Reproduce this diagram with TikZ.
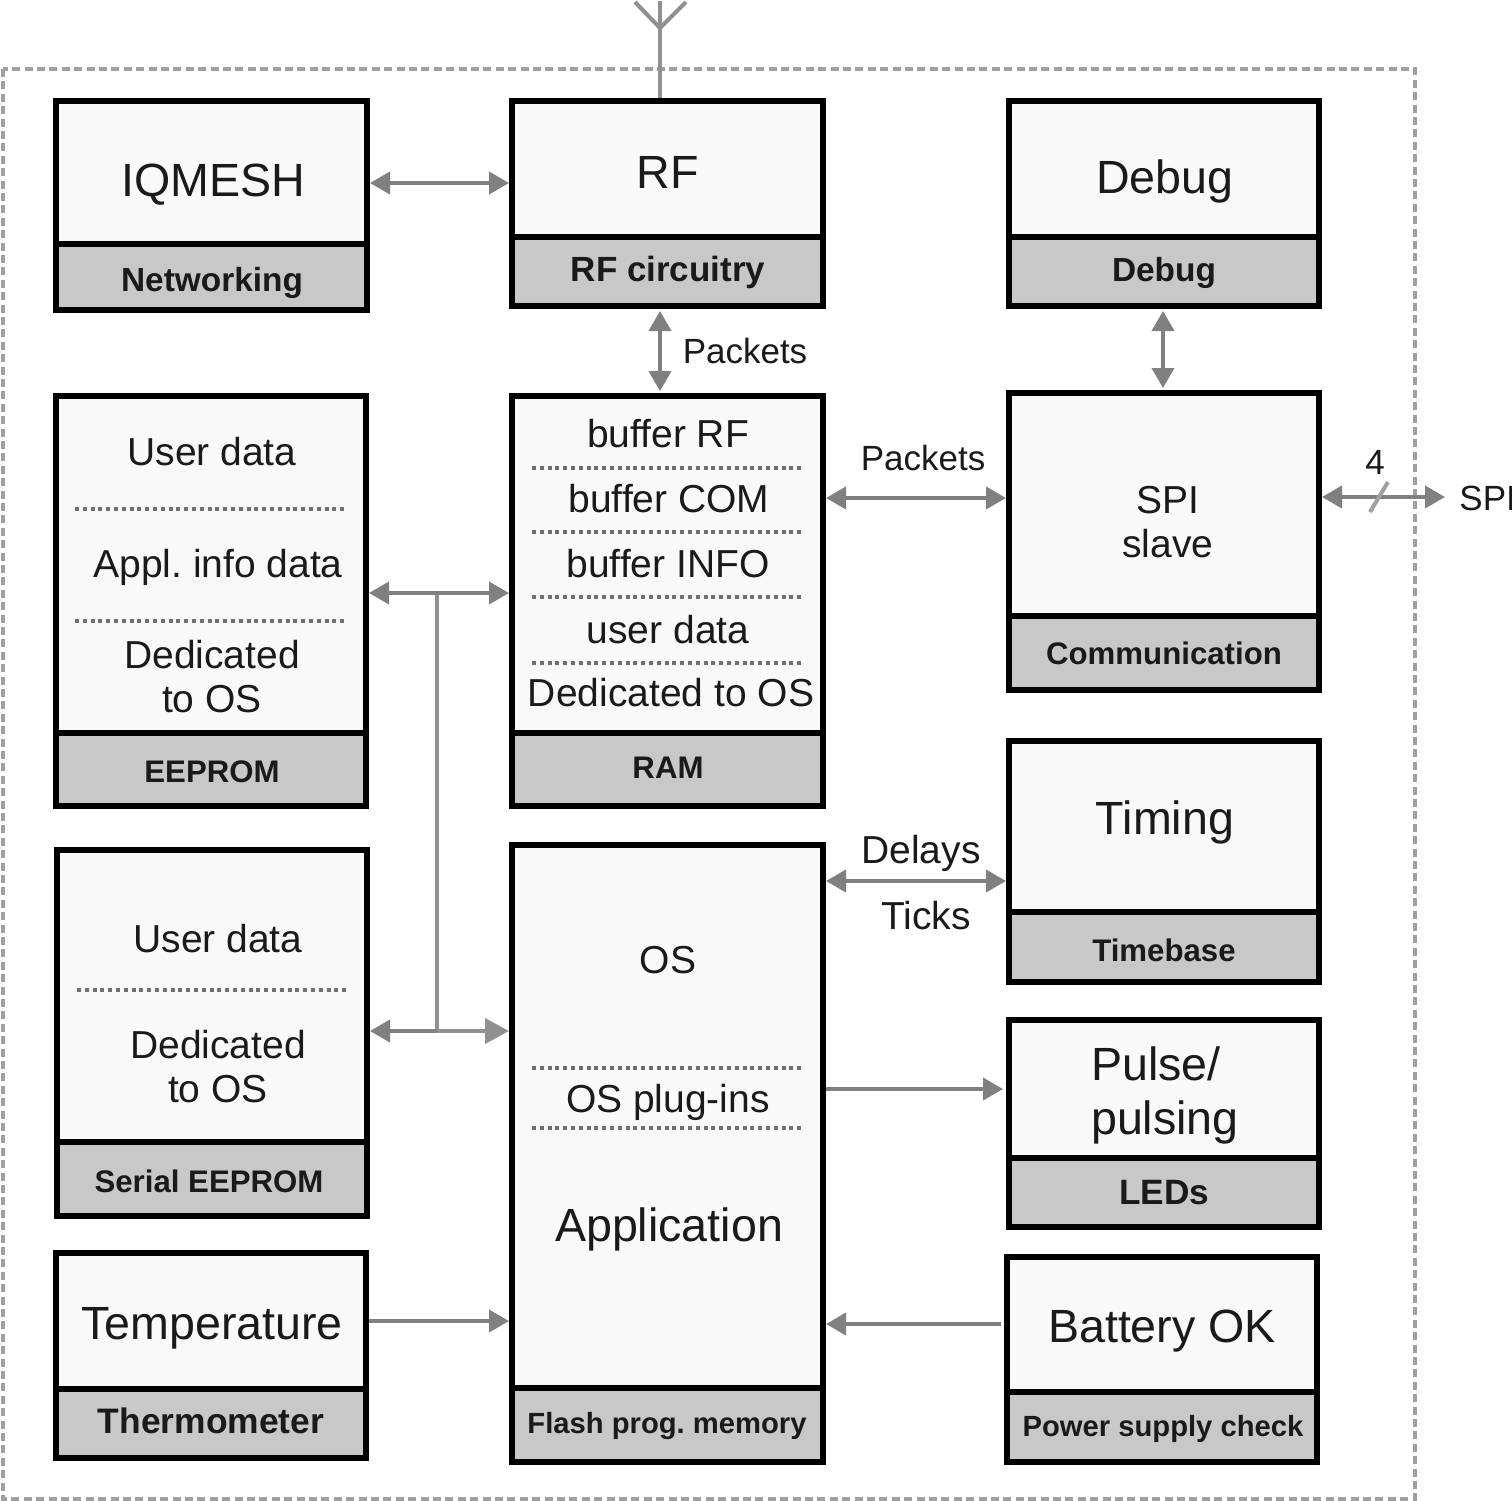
\documentclass[tikz,border=0pt]{standalone}
\usepackage{fontspec}
\setmainfont{Liberation Sans}
\usetikzlibrary{arrows.meta}
\definecolor{ink}{HTML}{1A1A1A}
\definecolor{body gray}{HTML}{F9F9F9}
\definecolor{tag gray}{HTML}{C8C8C8}
\definecolor{arrow gray}{HTML}{808080}
\definecolor{frame gray}{HTML}{A0A0A0}
\definecolor{bus gray}{HTML}{909090}
\definecolor{dot gray}{HTML}{707070}
\begin{document}
\frenchspacing
\begin{tikzpicture}[x=0.5pt, y=-0.5pt,
	>={Triangle[length=10pt,width=11pt]},
	block/.style={draw=black, line width=3pt, inner sep=0pt},
	text big/.style={text=ink, inner sep=0pt, anchor=base, font=\fontsize{23.3}{27}\selectfont},
	text mid/.style={text=ink, inner sep=0pt, anchor=base, font=\fontsize{19.5}{22}\selectfont},
	text small/.style={text=ink, inner sep=0pt, anchor=base, font=\fontsize{17.5}{20}\selectfont},
	link/.style={draw=arrow gray, line width=2pt},
	bus/.style={draw=bus gray, line width=2pt},
	separator/.style={draw=dot gray, line width=2pt, dash pattern=on 2pt off 1.9pt}]
		\useasboundingbox (0,0) rectangle (1512,1501);
		\draw[frame gray, line width=2pt, dash pattern=on 4pt off 2.2pt] (3,69) rectangle (1415,1499);
		% boxes: name / left / right / top / split / bottom
		\foreach \name/\xa/\xb/\ya/\ys/\yb in {iqmesh/56/367/101/244/310, rf/512/823/101/237/306,
			debug/1009/1319/101/237/306, spi/1009/1319/393/616/690, eeprom/56/366/396/733/806,
			ram/512/823/396/733/806, timing/1009/1319/741/912/982, serial/57/367/850/1142/1216,
			flash/512/823/845/1388/1462, pulse/1009/1319/1020/1158/1227,
			battery/1007/1317/1257/1392/1462, thermo/56/366/1253/1389/1458}{
		  \pgfmathsetmacro{\bw}{(\xb-\xa)/2}
		  \pgfmathsetmacro{\bha}{(\ys-\ya)/2}
		  \pgfmathsetmacro{\bhb}{(\yb-\ys)/2}
		  \node[block, fill=body gray, minimum width=\bw pt, minimum height=\bha pt] (\name) at ({(\xa+\xb)/2},{(\ya+\ys)/2}) {};
		  \node[block, fill=tag gray, minimum width=\bw pt, minimum height=\bhb pt] (tag \name) at ({(\xa+\xb)/2},{(\ys+\yb)/2}) {};
		}
		% grey bar captions
		\foreach \name/\px/\py/\fs/\txt in {iqmesh/212/291/16.7/Networking, rf/668/281/17.5/RF circuitry,
			debug/1164/281/16.7/Debug, spi/1164/664/15.6/Communication, eeprom/212/782/15.6/EEPROM,
			ram/668/778/15.6/RAM, timing/1164/961/15.6/Timebase, serial/209/1192/15.6/Serial EEPROM,
			flash/667/1433/14.6/Flash prog. memory, pulse/1164/1204/17.6/LEDs,
			thermo/211/1433/17.7/Thermometer, battery/1163/1436/14.6/Power supply check}{
		  \node[text=ink, inner sep=0pt, anchor=base, font=\fontsize{\fs}{\fs}\selectfont\bfseries] (caption \name) at (\px,\py) {\txt};
		}
		% dotted separators
		\foreach \name/\xa/\xb/\y in {ee1/75/347.5/508.5, ee2/75/347.5/620.5, ser1/77/349.5/989.5, ram1/532/804.5/467.5,
			ram2/532/804.5/531.5, ram3/532/804.5/596.5, ram4/532/804.5/662.5, fl1/532/804.5/1067.5, fl2/532/804.5/1127.5}{
		  \coordinate (left \name) at (\xa,\y);
		  \coordinate (right \name) at (\xb,\y);
		  \draw[separator] (left \name) -- (right \name);
		}
		\node[text big] (iqmesh text) at (213,196) {IQMESH};
		\node[text big] (rf text) at (668,188) {RF};
		\node[text big] (debug text) at (1165,193) {Debug};
		\node[text big] (timing text) at (1165,834) {Timing};
		\node[text big, anchor=center, align=left] (pulse text) at (1165,1095) {Pulse/\\pulsing};
		\node[text big] (appl text) at (669,1241) {Application};
		\node[text big] (thermo text) at (212,1339) {Temperature};
		\node[text big] (battery text) at (1162,1342) {Battery OK};
		\node[text mid] (ee user) at (212,465) {User data};
		\node[text mid] (ee info) at (218,577) {Appl. info data};
		\node[text mid, anchor=center, align=center] (ee os) at (212,677) {Dedicated\\to OS};
		\node[text mid] (ram rf) at (668,447) {buffer RF};
		\node[text mid] (ram com) at (669,512) {buffer COM};
		\node[text mid] (ram info) at (668,577) {buffer INFO};
		\node[text mid] (ram user) at (668,643) {user data};
		\node[text mid] (ram os) at (671,706) {Dedicated to OS};
		\node[text mid, anchor=center, align=center] (spi text) at (1168,522) {SPI\\slave};
		\node[text mid] (flash os) at (668,973) {OS};
		\node[text mid] (flash plug) at (668,1112) {OS plug-ins};
		\node[text mid] (ser user) at (218,952) {User data};
		\node[text mid, anchor=center, align=center] (ser os) at (218,1067) {Dedicated\\to OS};
		\node[text small] (packets rf) at (745,363) {Packets};
		\node[text small] (packets spi) at (923,470) {Packets};
		\node[text small] (spi width) at (1375,474) {4};
		\node[text small, anchor=base west] (spi out) at (1459,510) {SPI};
		\node[text mid] (delays) at (921,863) {Delays};
		\node[text mid] (ticks) at (926,929) {Ticks};
		% antenna
		\coordinate (ant top) at (660,1);
		\coordinate (ant fork) at (660,28);
		\coordinate (ant left) at (635,2);
		\coordinate (ant right) at (686,2);
		\draw[bus] (ant top |- rf.north) -- (ant top);
		\draw[bus] (ant left) -- (ant fork) -- (ant right);
		% links
		\draw[link, <->] (iqmesh.east |- 0,183) -- (rf.west |- 0,183);
		\draw[link, <->, shorten <=1pt, shorten >=1pt] (660,0 |- tag rf.south) -- (660,0 |- ram.north);
		\draw[link, <->, shorten <=1pt, shorten >=1pt] (1163,0 |- tag debug.south) -- (1163,0 |- spi.north);
		\draw[link, <->] (ram.east |- 0,498) -- (spi.west |- 0,498);
		\coordinate (spi end) at (1445,497);
		\draw[link, <->] (spi.east |- spi end) -- (spi end);
		\coordinate (slash a) at (1370,512);
		\coordinate (slash b) at (1388,482);
		\draw[frame gray, line width=2pt] (slash a) -- (slash b);
		\coordinate (bus top) at (437,593);
		\coordinate (bus bottom) at (437,1031);
		\draw[bus] (bus top) -- (bus bottom);
		\draw[link, <->] (eeprom.east |- bus top) -- (ram.west |- bus top);
		\draw[link, <-] (serial.east |- bus bottom) -- (bus bottom);
		\draw[bus, ->, >={Triangle[length=12pt,width=12.5pt]}] (bus bottom) -- (flash.west |- bus bottom);
		\draw[link, <->] (flash.east |- 0,881) -- (timing.west |- 0,881);
		\draw[link, ->, shorten >=1.5pt] (flash.east |- 0,1089) -- (pulse.west |- 0,1089);
		\draw[link, ->, shorten <=1.5pt] (battery.west |- 0,1324) -- (flash.east |- 0,1324);
		\draw[link, ->] (thermo.east |- 0,1321) -- (flash.west |- 0,1321);
	\end{tikzpicture}
\end{document}
